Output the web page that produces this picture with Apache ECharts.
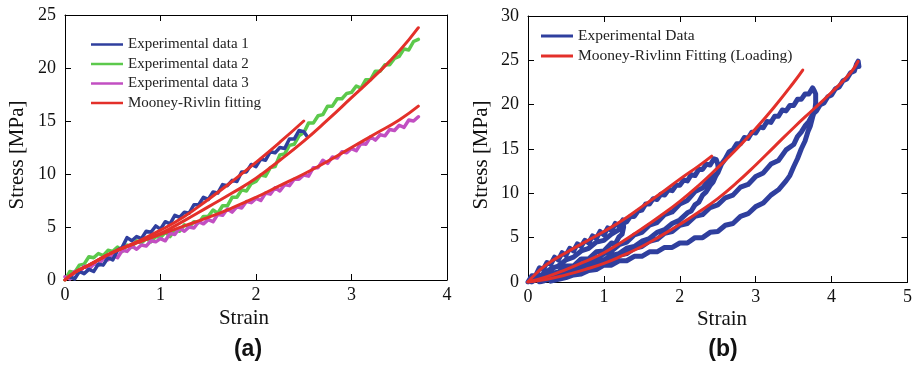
<!DOCTYPE html>
<html>
<head>
    <meta charset="utf-8">
    <title>Stress-strain</title>
    <script src="https://cdn.jsdelivr.net/npm/echarts@6/dist/echarts.min.js"></script>
    <style type="text/css">
        html, body { margin: 0; padding: 0; background: #fff; }
        #chart { width: 915px; height: 367px; }
    </style>
</head>
<body>
<div id="chart"></div>
<script type="text/javascript">
    // ---- panel (a): uniaxial tests ----
    var strainA1 = [0.05,0.10,0.15,0.20,0.25,0.30,0.35,0.40,0.45,0.50,0.55,0.60,0.65,0.70,0.75,0.80,0.85,0.90,0.95,1.00,
        1.05,1.10,1.15,1.20,1.25,1.30,1.35,1.40,1.45,1.50,1.55,1.60,1.65,1.70,1.75,1.80,1.85,1.90,1.95,2.00,
        2.05,2.10,2.15,2.20,2.25,2.30,2.35,2.40,2.45,2.50,2.53];
    var stressA1 = [0.3,0.1,0.8,0.6,1.0,0.8,1.5,1.4,2.1,1.9,2.8,3.1,4.0,3.7,4.1,3.9,4.6,4.5,5.1,4.8,
        5.5,5.3,6.1,5.9,6.4,6.3,7.1,7.1,7.8,7.6,8.3,8.2,9.0,8.9,9.4,9.3,10.2,10.2,10.9,10.7,
        11.4,11.3,12.1,12.0,12.5,12.4,13.3,13.3,14.1,14.0,13.6];

    var strainA23 = [0,0.05,0.10,0.15,0.20,0.25,0.30,0.35,0.40,0.45,0.50,0.55,0.60,0.65,0.70,0.75,0.80,0.85,0.90,0.95,
        1.00,1.05,1.10,1.15,1.20,1.25,1.30,1.35,1.40,1.45,1.50,1.55,1.60,1.65,1.70,1.75,1.80,1.85,1.90,1.95,
        2.00,2.05,2.10,2.15,2.20,2.25,2.30,2.35,2.40,2.45,2.50,2.55,2.60,2.65,2.70,2.75,2.80,2.85,2.90,2.95,
        3.00,3.05,3.10,3.15,3.20,3.25,3.30,3.35,3.40,3.45,3.50,3.55,3.60,3.65,3.70];
    var stressA2 = [0,0.8,0.7,1.4,1.5,2.2,2.1,2.5,2.3,2.8,2.7,3.1,2.7,3.3,3.1,3.7,3.5,3.9,3.6,4.1,
        4.0,4.5,4.1,4.7,4.6,5.2,5.0,5.5,5.4,6.0,6.0,6.6,6.3,7.0,7.0,7.8,7.8,8.5,8.4,9.1,
        9.3,9.9,9.8,10.6,10.7,11.8,11.9,12.7,12.8,13.6,13.9,14.8,14.8,15.5,15.6,16.4,16.4,17.1,17.1,17.6,
        17.7,18.3,18.1,18.9,18.9,19.7,19.7,20.3,20.3,20.9,21.1,21.8,21.7,22.5,22.7];
    var stressA3 = [0.3,0.1,0.8,0.7,1.3,1.0,1.5,1.4,2.0,1.9,2.3,2.1,2.8,2.7,3.2,2.9,3.3,3.2,3.7,3.6,
        3.9,3.7,4.4,4.3,4.9,4.6,5.0,4.9,5.5,5.3,5.7,5.5,6.2,6.1,6.7,6.4,6.9,6.8,7.4,7.3,
        7.7,7.5,8.2,8.1,8.7,8.4,9.0,8.9,9.5,9.5,9.9,9.8,10.6,10.6,11.3,11.0,11.6,11.5,12.1,12.0,
        12.4,12.2,12.9,12.8,13.5,13.2,13.7,13.6,14.2,14.1,14.6,14.4,15.1,15.0,15.4];

    var fitStrainA1 = [0,0.1,0.25,0.5,0.75,1,1.25,1.5,1.75,2,2.25,2.5];
    var fitStressA1 = [0,0.7,1.4,2.6,3.6,4.7,6.0,7.6,9.3,11.1,13.0,15.0];
    var fitStrainA23 = [0,0.1,0.25,0.5,0.75,1,1.25,1.5,1.75,2,2.25,2.5,2.75,3,3.25,3.5,3.7];
    var fitStressA2 = [0,0.7,1.4,2.6,3.5,4.4,5.6,6.9,8.2,9.6,11.3,13.1,15.1,17.2,19.3,21.6,23.8];
    var fitStressA3 = [0,0.7,1.4,2.6,3.5,4.3,5.1,5.9,6.8,7.8,8.9,10.0,11.2,12.5,13.8,15.1,16.4];

    // ---- panel (b): cyclic test, one continuous path ----
    var load1Strain = [0,0.05,0.10,0.15,0.20,0.25,0.30,0.35,0.40,0.45,0.50,0.55,0.60,0.65,0.70,0.75,0.80,0.85,0.90,0.95,1.00,1.05,1.10,1.15,1.20,1.25];
    var load1Stress = [0,0.7,0.7,1.6,1.4,2.2,2.0,2.8,2.5,3.3,3.0,3.8,3.5,4.3,4.0,4.7,4.4,5.2,4.9,5.7,5.3,6.1,5.8,6.6,6.3,7.0];
    var unload1Strain = [1.26,1.24,1.20,1.15,1.10,1.00,0.90,0.80,0.70,0.60,0.50,0.40,0.30,0.20,0.10,0.05];
    var unload1Stress = [6.2,5.4,5.1,4.3,4.4,3.5,3.4,2.6,2.6,1.8,1.8,1.1,1.0,0.4,0.3,0.0];
    var load2Strain = [0.1,0.2,0.3,0.4,0.5,0.6,0.7,0.8,0.9,1.0,1.1,1.2,1.25,1.3,1.35,1.4,1.45,1.5,1.55,1.6,1.65,1.7,1.75,1.8,1.85,1.9,1.95,2.0,2.05,2.1,2.15,2.2,2.25,2.3,2.35,2.4,2.45,2.48];
    var load2Stress = [0.4,0.9,1.5,1.8,2.5,2.8,3.5,3.8,4.5,4.7,5.4,5.9,6.6,6.8,7.4,7.4,8.0,8.1,8.8,8.8,9.4,9.3,9.9,9.8,10.4,10.3,10.9,10.9,11.5,11.4,12.1,12.0,12.7,12.7,13.3,13.2,13.9,13.8];
    var unload2Strain = [2.50,2.51,2.47,2.44,2.40,2.35,2.30,2.25,2.20,2.15,2.10,2.00,1.90,1.80,1.70,1.60,1.50,1.40,1.30,1.20,1.10,1.00,0.90,0.80,0.70,0.60,0.50,0.40,0.30,0.20,0.15];
    var unload2Stress = [13.3,12.5,11.9,11.3,10.9,10.2,9.8,9.0,8.7,8.0,7.8,7.0,6.6,5.9,5.6,4.9,4.6,4.0,3.8,3.2,3.0,2.5,2.3,1.8,1.6,1.1,1.0,0.6,0.4,0.1,0.0];
    var load3Strain = [0.2,0.3,0.4,0.5,0.6,0.7,0.8,0.9,1.0,1.1,1.2,1.3,1.4,1.5,1.6,1.7,1.8,1.9,2.0,2.1,2.2,2.3,2.4,2.5,2.55,2.6,2.65,2.7,2.75,2.8,2.85,2.9,2.95,3.0,3.05,3.1,3.15,3.2,3.25,3.3,3.35,3.4,3.45,3.5,3.55,3.6,3.65,3.7,3.75,3.77];
    var load3Stress = [0.2,0.5,0.9,1.1,1.6,1.8,2.4,2.6,3.2,3.5,4.2,4.5,5.3,5.6,6.4,6.7,7.6,7.9,8.8,9.2,10.2,10.6,11.7,12.3,13.3,13.9,14.7,14.9,15.6,15.6,16.3,16.2,16.9,16.8,17.5,17.4,18.1,18.0,18.7,18.7,19.4,19.3,19.9,19.9,20.6,20.6,21.2,21.2,21.9,21.6];
    var unload3Strain = [3.79,3.79,3.78,3.75,3.72,3.69,3.65,3.60,3.55,3.50,3.45,3.40,3.30,3.20,3.10,3.00,2.90,2.80,2.70,2.60,2.50,2.40,2.30,2.20,2.10,2.00,1.90,1.80,1.70,1.60,1.50,1.40,1.30,1.20,1.10,1.00,0.90,0.80,0.70,0.60,0.50,0.40,0.30,0.28];
    var unload3Stress = [21.2,20.2,19.4,18.6,17.6,17.0,15.9,15.0,13.9,13.0,12.0,11.4,10.4,9.8,8.9,8.5,7.7,7.4,6.6,6.4,5.7,5.6,5.0,5.0,4.4,4.4,3.9,3.9,3.4,3.4,2.9,2.9,2.4,2.4,1.9,1.9,1.4,1.3,0.9,0.8,0.5,0.3,0.1,0.0];
    var load4Strain = [0.3,0.4,0.5,0.6,0.7,0.8,0.9,1.0,1.1,1.2,1.3,1.4,1.5,1.6,1.7,1.8,1.9,2.0,2.1,2.2,2.3,2.4,2.5,2.6,2.7,2.8,2.9,3.0,3.1,3.2,3.3,3.4,3.5,3.55,3.6,3.65,3.7,3.75,3.8,3.85,3.9,3.95,4.0,4.05,4.1,4.15,4.2,4.25,4.3,4.33,4.35,4.36];
    var load4Stress = [0.1,0.4,0.6,1.0,1.1,1.6,1.7,2.3,2.4,3.0,3.2,3.8,4.0,4.6,4.8,5.5,5.7,6.4,6.6,7.4,7.6,8.4,8.7,9.5,9.8,10.7,11.0,11.9,12.3,13.3,13.7,14.9,15.5,16.4,16.9,17.6,18.1,18.9,19.3,20.0,20.2,20.9,21.1,21.8,22.0,22.7,22.9,23.6,23.8,24.6,24.9,24.3];

    var fitStrainBA = [0,0.1,0.25,0.5,0.75,1,1.25,1.5,1.75,2,2.25,2.42];
    var fitStressBA = [0,0.9,2.0,3.3,4.5,5.7,7.0,8.5,10.0,11.6,13.1,14.2];
    var fitStrainBB = [0,0.25,0.5,0.75,1,1.25,1.5,1.75,2,2.25,2.5,2.75,3,3.25,3.5,3.62];
    var fitStressBB = [0,0.6,1.4,2.3,3.3,4.6,6.0,7.5,9.1,10.9,12.9,15.0,17.3,19.8,22.5,23.9];
    var fitStrainBC = [0,0.25,0.5,0.75,1,1.25,1.5,1.75,2,2.25,2.5,2.75,3,3.25,3.5,3.75,4,4.25,4.35];
    var fitStressBC = [0,0.3,0.8,1.4,2.1,3.0,4.0,5.2,6.5,7.9,9.4,11.2,13.2,15.3,17.4,19.4,21.4,23.6,24.9];

    var xTicksA = [0, 4, 1], yTicksA = [0, 25, 5];
    var xTicksB = [0, 5, 1], yTicksB = [0, 30, 5];

    var BLUE = '#2f3f9e', GREEN = '#5cc94c', MAGENTA = '#c24fc2', RED = '#e3302a';
    var SERIF = '"Liberation Serif", "Times New Roman", serif';

    function zip(xs, ys) {
        var out = [];
        for (var i = 0; i < xs.length; i++) out.push([xs[i], ys[i]]);
        return out;
    }

    var pathB = [].concat(
        zip(load1Strain, load1Stress), zip(unload1Strain, unload1Stress),
        zip(load2Strain, load2Stress), zip(unload2Strain, unload2Stress),
        zip(load3Strain, load3Stress), zip(unload3Strain, unload3Stress),
        zip(load4Strain, load4Stress));

    function valueAxis(ticks, gridIndex, position, labels) {
        return {
            type: 'value', gridIndex: gridIndex, position: position,
            min: ticks[0], max: ticks[1], interval: ticks[2],
            axisLine: { show: true, onZero: false, lineStyle: { color: '#000', width: 1 } },
            axisTick: { show: true, inside: true, length: 6, lineStyle: { color: '#000' } },
            axisLabel: { show: labels, color: '#111', fontFamily: SERIF, fontSize: 18, margin: position === 'left' ? 9 : 6 },
            splitLine: { show: false }
        };
    }

    function line(name, data, color, width, xi, yi, smooth, z) {
        return {
            name: name, type: 'line', xAxisIndex: xi, yAxisIndex: yi,
            data: data, showSymbol: false, symbol: 'none', smooth: smooth,
            color: color, lineStyle: { color: color, width: width, join: 'round', cap: 'round' },
            z: z, silent: true
        };
    }

    var chart = echarts.init(document.getElementById('chart'));
    chart.setOption({
        animation: false,
        backgroundColor: '#fff',
        grid: [
            { left: 65, top: 15, width: 382, height: 265 },
            { left: 528, top: 16, width: 380, height: 266 }
        ],
        xAxis: [
            valueAxis(xTicksA, 0, 'bottom', true),
            valueAxis(xTicksA, 0, 'top', false),
            valueAxis(xTicksB, 1, 'bottom', true),
            valueAxis(xTicksB, 1, 'top', false)
        ],
        yAxis: [
            valueAxis(yTicksA, 0, 'left', true),
            valueAxis(yTicksA, 0, 'right', false),
            valueAxis(yTicksB, 1, 'left', true),
            valueAxis(yTicksB, 1, 'right', false)
        ],
        legend: [
            {
                data: ['Experimental data 1', 'Experimental data 2', 'Experimental data 3', 'Mooney-Rivlin fitting'],
                orient: 'vertical', left: 91, top: 37, padding: 0,
                icon: 'rect', itemWidth: 32, itemHeight: 2.5, itemGap: 4.5,
                selectedMode: false,
                textStyle: { fontFamily: SERIF, fontSize: 15, lineHeight: 15, color: '#222' }
            },
            {
                data: ['Experimental Data', 'Mooney-Rivlinn Fitting (Loading)'],
                orient: 'vertical', left: 541, top: 28, padding: 0,
                icon: 'rect', itemWidth: 32, itemHeight: 3, itemGap: 4,
                selectedMode: false,
                textStyle: { fontFamily: SERIF, fontSize: 15.5, lineHeight: 15.5, color: '#222' }
            }
        ],
        series: [
            line('Experimental data 2', zip(strainA23, stressA2), GREEN, 3.5, 0, 0, false, 2),
            line('Experimental data 3', zip(strainA23, stressA3), MAGENTA, 3.5, 0, 0, false, 2),
            line('Experimental data 1', zip(strainA1, stressA1), BLUE, 3.5, 0, 0, false, 3),
            line('Mooney-Rivlin fitting', zip(fitStrainA1, fitStressA1), RED, 3, 0, 0, true, 5),
            line('Mooney-Rivlin fitting', zip(fitStrainA23, fitStressA2), RED, 3, 0, 0, true, 5),
            line('Mooney-Rivlin fitting', zip(fitStrainA23, fitStressA3), RED, 3, 0, 0, true, 5),

            line('Experimental Data', pathB, BLUE, 5, 2, 2, false, 3),
            line('Mooney-Rivlinn Fitting (Loading)', zip(fitStrainBA, fitStressBA), RED, 3, 2, 2, true, 5),
            line('Mooney-Rivlinn Fitting (Loading)', zip(fitStrainBB, fitStressBB), RED, 3, 2, 2, true, 5),
            line('Mooney-Rivlinn Fitting (Loading)', zip(fitStrainBC, fitStressBC), RED, 3, 2, 2, true, 5)
        ],
        graphic: [
            { type: 'text', x: 244, y: 318, style: { text: 'Strain', font: '21px ' + SERIF, fill: '#111', textAlign: 'center', textVerticalAlign: 'middle' } },
            { type: 'text', x: 722, y: 319, style: { text: 'Strain', font: '21px ' + SERIF, fill: '#111', textAlign: 'center', textVerticalAlign: 'middle' } },
            { type: 'text', x: 17, y: 155, rotation: Math.PI / 2, style: { text: 'Stress [MPa]', font: '21px ' + SERIF, fill: '#111', textAlign: 'center', textVerticalAlign: 'middle' } },
            { type: 'text', x: 481, y: 155, rotation: Math.PI / 2, style: { text: 'Stress [MPa]', font: '21px ' + SERIF, fill: '#111', textAlign: 'center', textVerticalAlign: 'middle' } },
            { type: 'text', x: 248, y: 350, style: { text: '(a)', font: 'bold 23px "Liberation Sans", Arial, sans-serif', fill: '#111', textAlign: 'center', textVerticalAlign: 'middle' } },
            { type: 'text', x: 723, y: 350, style: { text: '(b)', font: 'bold 23px "Liberation Sans", Arial, sans-serif', fill: '#111', textAlign: 'center', textVerticalAlign: 'middle' } }
        ]
    });
</script>
</body>
</html>
